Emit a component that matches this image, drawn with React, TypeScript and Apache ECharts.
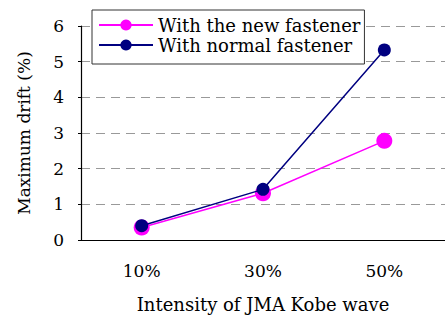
import React, { useEffect, useRef } from "react";
import * as echarts from "echarts";

const categories = ["10%", "30%", "50%"];
const newFastener = [0.35, 1.31, 2.78];
const normalFastener = [0.4, 1.42, 5.33];
const yTicks = [0, 1, 2, 3, 4, 5, 6];

const FONT = "DejaVu Serif, Liberation Serif, serif";

export default function App() {
  const ref = useRef<HTMLDivElement>(null);
  useEffect(() => {
    if (!ref.current) return;
    const chart = echarts.init(ref.current, null, { renderer: "svg" });
    chart.setOption({
      animation: false,
      backgroundColor: "#ffffff",
      grid: { left: 81, right: -4, top: 26, bottom: 77, containLabel: false },
      legend: {
        orient: "vertical",
        left: 92,
        top: 10,
        padding: [6, 4, 10, 6],
        itemGap: 2,
        itemWidth: 54,
        itemHeight: 14,
        backgroundColor: "#ffffff",
        borderColor: "#333333",
        borderWidth: 1,
        borderRadius: 0,
        textStyle: { fontFamily: FONT, fontSize: 18, color: "#000", lineHeight: 18 },
        data: ["With the new fastener", "With normal fastener"],
      },
      xAxis: {
        type: "category",
        data: categories,
        boundaryGap: true,
        name: "Intensity of JMA Kobe wave",
        nameLocation: "middle",
        nameGap: 55,
        nameTextStyle: { fontFamily: FONT, fontSize: 18, color: "#000" },
        axisLine: { lineStyle: { color: "#000", width: 1.2 } },
        axisTick: { show: false },
        axisLabel: { fontFamily: FONT, fontSize: 17, color: "#000", margin: 22 },
      },
      yAxis: {
        type: "value",
        min: yTicks[0],
        max: yTicks[yTicks.length - 1],
        interval: 1,
        name: "Maximum drift (%)",
        nameLocation: "middle",
        nameGap: 49,
        nameTextStyle: { fontFamily: FONT, fontSize: 17, color: "#000" },
        axisLine: { show: true, lineStyle: { color: "#000", width: 1.2 } },
        axisTick: { show: true, inside: false, length: 3, lineStyle: { color: "#000" } },
        axisLabel: { fontFamily: FONT, fontSize: 17, color: "#000", margin: 17 },
        splitLine: { show: true, lineStyle: { color: "#999", type: [9, 6], width: 1 } },
      },
      series: [
        {
          name: "With normal fastener",
          type: "line",
          data: normalFastener,
          symbol: "circle",
          symbolSize: 13,
          z: 2,
          itemStyle: { color: "#000080" },
          lineStyle: { color: "#000080", width: 1.5 },
        },
        {
          name: "With the new fastener",
          type: "line",
          data: newFastener,
          symbol: "circle",
          symbolSize: 16,
          z: 1,
          itemStyle: { color: "#ff00ff" },
          lineStyle: { color: "#ff00ff", width: 1.5 },
        },
      ],
    });
    return () => chart.dispose();
  }, []);
  return (
    <div
      ref={ref}
      style={{ position: "fixed", left: 0, top: 0, width: 445, height: 318 }}
    />
  );
}
